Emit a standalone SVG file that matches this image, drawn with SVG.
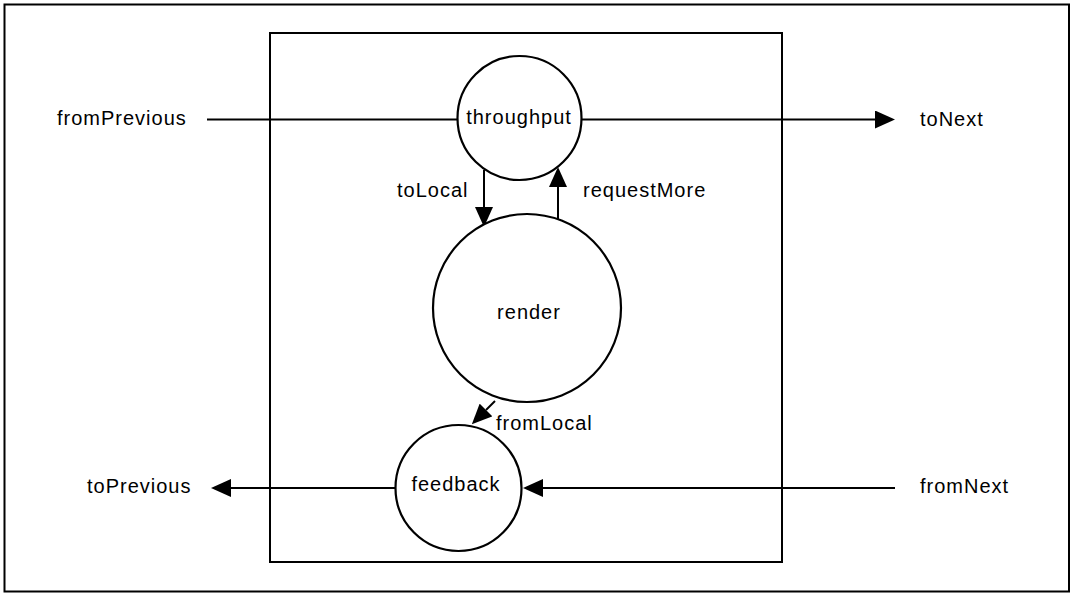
<svg xmlns="http://www.w3.org/2000/svg" width="1074" height="593" viewBox="0 0 1074 593">
<style>
.frame{fill:none;stroke:#000;stroke-width:2}
.node{fill:#fff;stroke:#000;stroke-width:2.2}
.conn{fill:none;stroke:#000;stroke-width:2}
.lbl{font-family:"Liberation Sans",Arial,Helvetica,sans-serif;font-size:20px;letter-spacing:1px;fill:#000}
.ctr{text-anchor:middle}
</style>
<defs>
<marker id="ah" markerUnits="userSpaceOnUse" markerWidth="20" markerHeight="18" refX="0" refY="9" orient="auto" viewBox="0 0 20 18">
<path d="M0,0 L20,9 L0,18 z" fill="#000"/>
</marker>
</defs>
<rect class="frame" x="4.5" y="4.5" width="1064.5" height="587"/>
<rect class="frame" x="270" y="33" width="512" height="529"/>
<g id="connectors">
<line class="conn" x1="207" y1="119.5" x2="457" y2="119.5"/>
<line class="conn" x1="582" y1="119.5" x2="875" y2="119.5" marker-end="url(#ah)"/>
<line class="conn" x1="484" y1="170" x2="484" y2="207" marker-end="url(#ah)"/>
<line class="conn" x1="558" y1="219" x2="558" y2="187" marker-end="url(#ah)"/>
<line class="conn" x1="495" y1="401" x2="486" y2="410" marker-end="url(#ah)"/>
<line class="conn" x1="895" y1="488" x2="543" y2="488" marker-end="url(#ah)"/>
<line class="conn" x1="395" y1="488" x2="231" y2="488" marker-end="url(#ah)"/>
</g>
<g id="node-throughput">
<circle class="node" cx="519.5" cy="118" r="62"/>
<text class="lbl ctr" x="519" y="124">throughput</text>
</g>
<g id="node-render">
<circle class="node" cx="527" cy="308" r="94"/>
<text class="lbl ctr" x="529" y="319">render</text>
</g>
<g id="node-feedback">
<circle class="node" cx="458.5" cy="488" r="63"/>
<text class="lbl ctr" x="456" y="491">feedback</text>
</g>
<g id="labels">
<text class="lbl" x="57" y="125">fromPrevious</text>
<text class="lbl" x="920" y="126">toNext</text>
<text class="lbl" x="397" y="197">toLocal</text>
<text class="lbl" x="583" y="197">requestMore</text>
<text class="lbl" x="496" y="430">fromLocal</text>
<text class="lbl" x="87" y="493">toPrevious</text>
<text class="lbl" x="920" y="493">fromNext</text>
</g>
</svg>
